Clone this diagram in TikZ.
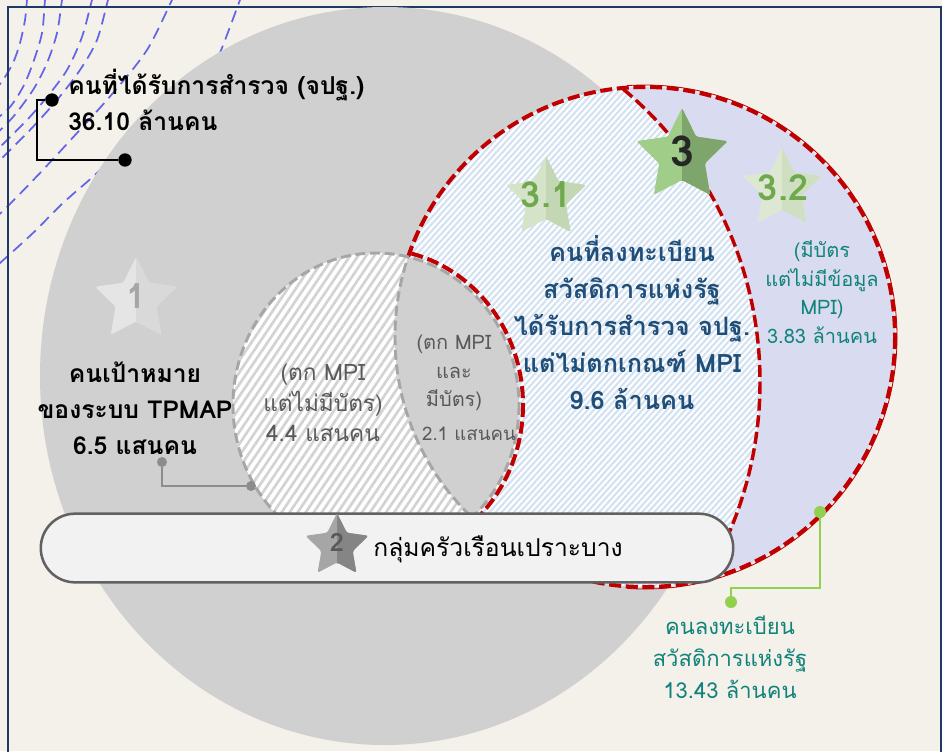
\documentclass[tikz,border=0pt]{standalone}
\usepackage{fontspec}
\newfontfamily\thaifont[Script=Thai]{Loma}
\usetikzlibrary{shapes.geometric,shapes.misc,patterns.meta}

\definecolor{cream}{HTML}{F3F1EA}
\definecolor{navy}{HTML}{1F3864}
\definecolor{ripple}{HTML}{6464E8}
\definecolor{bigbg}{HTML}{D0D0D0}
\definecolor{lavender}{HTML}{D9DCF1}
\definecolor{stripeblue}{HTML}{D3E2F2}
\definecolor{stripegray}{HTML}{D3D3D3}
\definecolor{wfred}{HTML}{C00000}
\definecolor{dashgray}{HTML}{A6A6A6}
\definecolor{txtblue}{HTML}{1F4E79}
\definecolor{txtteal}{HTML}{11837B}
\definecolor{txtgray}{HTML}{595959}
\definecolor{linkgreen}{HTML}{92D050}
\definecolor{linkgray}{HTML}{8C8C8C}
\definecolor{greenA}{HTML}{A0CD88}
\definecolor{greenB}{HTML}{7EA56C}
\definecolor{paleA}{HTML}{D5E3C8}
\definecolor{paleB}{HTML}{C4D7B5}
\definecolor{paleC}{HTML}{DDE8D3}
\definecolor{paleD}{HTML}{CFDFC2}
\definecolor{digitgreen}{HTML}{70A84E}

% star in two shades, left half light and right half dark
\newcommand{\twostar}[5]{%
  \node[starshape, minimum size=1.5*#3pt, fill=#4] (#1) at #2 {};
  \begin{scope}
    \clip ([yshift=2pt]#1.north) rectangle ([xshift=40pt,yshift=-40pt]#1.center);
    \node[starshape, minimum size=1.5*#3pt, fill=#5] at (#1.center) {};
  \end{scope}}

\begin{document}
\begin{tikzpicture}[x=0.75pt,y=-0.75pt,
  ripple line/.style={draw=ripple, line width=1.3pt, dash pattern=on 9pt off 5pt},
  reddash/.style={draw=wfred, line width=3pt, dash pattern=on 9pt off 3.5pt},
  graydash/.style={draw=dashgray, line width=2.2pt, dash pattern=on 7.5pt off 3.5pt},
  starshape/.style={star, star points=5, star point ratio=2, inner sep=0pt, rounded corners=1.2pt},
  dot/.style={circle, fill, inner sep=0pt, minimum size=#1},
  dot/.default=8pt,
  txt/.style={align=center, inner sep=0pt}]
\useasboundingbox (0,0) rectangle (942,751);
\fill[cream] (0,0) rectangle (942,751);

% ripples and frame
\begin{scope}
\clip (0,0) rectangle (942,751);
\draw[ripple line] plot[smooth] coordinates {(28,-5) (27,0) (25,20) (20,43) (13,63) (3,80) (-5,90)};
\draw[ripple line] plot[smooth] coordinates {(46,-5) (45,0) (42,33) (33,63) (23,87) (10,107) (-5,120)};
\draw[ripple line] plot[smooth] coordinates {(63,-5) (62,0) (57,33) (47,63) (33,90) (13,117) (-5,135)};
\draw[ripple line] plot[smooth] coordinates {(94,-5) (92,0) (82,37) (67,70) (47,97) (27,120) (0,147) (-5,152)};
\draw[ripple line] plot[smooth] coordinates {(110,-5) (108,0) (97,40) (80,70) (57,100) (30,130) (0,160) (-5,165)};
\draw[ripple line] plot[smooth] coordinates {(174,-5) (172,0) (147,50) (113,93) (77,133) (40,173) (7,207) (-5,218)};
\draw[ripple line] plot[smooth] coordinates {(242,-5) (240,0) (217,60) (195,100)};
\draw[ripple line] plot[smooth] coordinates {(130,140) (97,173) (63,203) (33,233) (0,263) (-5,267)};
\draw[navy, line width=1.5pt] (8,7) rectangle (941,770);
\end{scope}

% surveyed people
\fill[bigbg] (385,376) ellipse [x radius=345, y radius=369];

% registered for state welfare
\fill[lavender] (645,337) circle [radius=250];
\begin{scope}
\clip (645,337) circle [radius=250];
\fill[white] (378,382) circle [radius=382];
\fill[pattern={Lines[angle=48,distance=3.4pt,line width=1.6pt]}, pattern color=stripeblue] (378,382) circle [radius=382];
\draw[reddash, line width=2.6pt] (378,382) circle [radius=382];
\end{scope}
\begin{scope}
\clip (627,0) rectangle (942,751);
\draw[wfred, line width=0.6pt] (645,337) circle [radius=252];
\end{scope}
\draw[reddash] (645,337) circle [radius=250];

% fall under MPI
\fill[white] (376,405) ellipse [x radius=143, y radius=152];
\fill[pattern={Lines[angle=56,distance=5pt,line width=2pt]}, pattern color=stripegray] (376,405) ellipse [x radius=143, y radius=152];
\begin{scope}
\clip (376,405) ellipse [x radius=143, y radius=152];
\fill[bigbg] (645,337) circle [radius=250];
\draw[graydash] (645,337) circle [radius=250];
\end{scope}
\draw[graydash] (376,405) ellipse [x radius=143, y radius=152];
\begin{scope}
\clip (645,337) circle [radius=250];
\draw[reddash] (376,405) ellipse [x radius=147, y radius=156];
\end{scope}

% vulnerable households
\node[rounded rectangle, draw=black!62, line width=1.9pt, fill=black!5,
  minimum width=526pt, minimum height=51.5pt] (pill) at (387,548) {};

% stars
\twostar{st1}{(136,300)}{43}{black!10}{black!15}
\node[font=\thaifont\bfseries\fontsize{26}{26}\selectfont, text=black!35] (n1) at (136,296) {1};
\twostar{st2}{(337,546)}{33}{black!35}{black!48}
\node[font=\thaifont\bfseries\fontsize{19}{19}\selectfont, text=black!65] (n2) at (337,542) {2};
\twostar{st3}{(682,156)}{48}{greenA}{greenB}
\node[font=\thaifont\bfseries\fontsize{32}{32}\selectfont, text=black!85] (n3) at (682,151) {3};
\twostar{st31}{(546,198)}{42}{paleA}{paleB}
\node[font=\thaifont\bfseries\fontsize{27}{27}\selectfont, text=digitgreen] (n31) at (546,195) {3.1};
\twostar{st32}{(782,189)}{41.5}{paleC}{paleD}
\node[font=\thaifont\bfseries\fontsize{27}{27}\selectfont, text=digitgreen] (n32) at (783,188) {3.2};

% labels
\node[txt, align=left, anchor=west, font=\thaifont\bfseries\fontsize{18.5}{27.5}\selectfont] (survey) at (68,100) {คนที่ได้รับการสำรวจ (จปฐ.)\\36.10 ล้านคน};
\node[txt, font=\thaifont\bfseries\fontsize{18.5}{27}\selectfont] (target) at (135,408) {คนเป้าหมาย\\ของระบบ TPMAP\\6.5 แสนคน};
\node[txt, text=txtgray, font=\thaifont\fontsize{17}{23}\selectfont] (nocard) at (323,403) {(ตก MPI\\แต่ไม่มีบัตร)\\4.4 แสนคน};
\node[txt, text=txtgray, font=\thaifont\fontsize{15}{21.5}\selectfont] (both) at (454,373) {(ตก MPI\\และ\\มีบัตร)};
\node[txt, text=txtgray, font=\thaifont\fontsize{14}{21.5}\selectfont] (bothnum) at (469,434) {2.1 แสนคน};
\node[txt, text=txtblue, font=\thaifont\bfseries\fontsize{19}{27.75}\selectfont] (notpoor) at (632,323) {คนที่ลงทะเบียน\\สวัสดิการแห่งรัฐ\\ได้รับการสำรวจ จปฐ.\\แต่ไม่ตกเกณฑ์ MPI\\9.6 ล้านคน};
\node[txt, text=txtteal, font=\thaifont\fontsize{15}{21.4}\selectfont] (cardonly) at (822,292) {(มีบัตร\\แต่ไม่มีข้อมูล\\MPI)\\3.83 ล้านคน};
\node[txt, text=txtteal, font=\thaifont\fontsize{16.5}{24}\selectfont] (registered) at (730,657) {คนลงทะเบียน\\สวัสดิการแห่งรัฐ\\13.43 ล้านคน};
\node[txt, font=\thaifont\fontsize{18.5}{25}\selectfont] (pilltext) at (498,549) {กลุ่มครัวเรือนเปราะบาง};

% callouts
\node[dot=10pt] (s1) at (52,100) {};
\node[dot=10pt] (s2) at (125,160) {};
\draw[line width=1.5pt] (s1) -- ++(-15,0) |- (s2);
\node[dot=7.5pt, fill=linkgray] (t1) at (162,462) {};
\node[dot=7.5pt, fill=linkgray] (t2) at (251,486) {};
\draw[linkgray, line width=1.5pt] (t1) |- (t2);
\node[dot=9pt, fill=linkgreen] (r1) at (820,512) {};
\node[dot=9pt, fill=linkgreen] (r2) at (731,602) {};
\draw[linkgreen, line width=1.5pt] (r1) -- ++(0,76) -| (r2);
\end{tikzpicture}
\end{document}
